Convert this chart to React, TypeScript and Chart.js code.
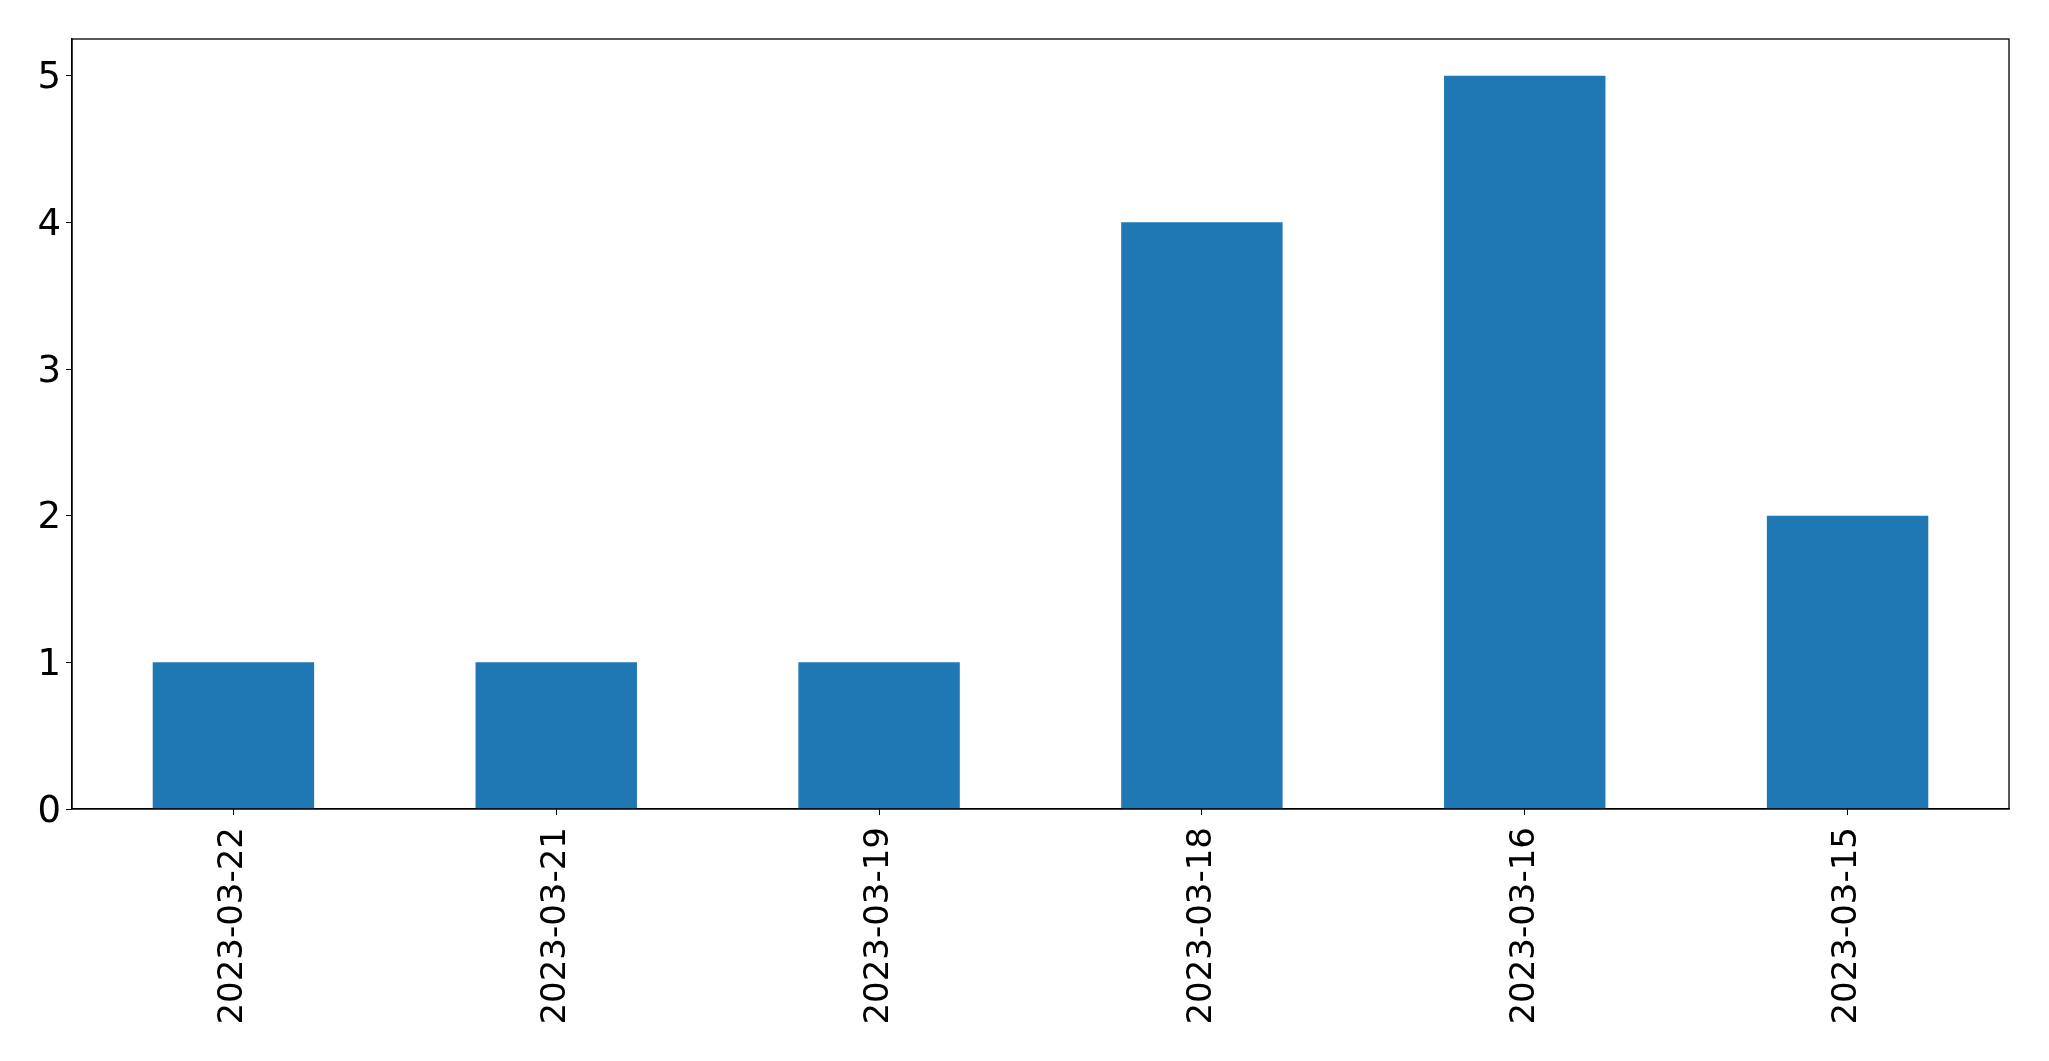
import React, { useEffect, useRef } from "react";
import { Chart, registerables } from "chart.js";

Chart.register(...registerables);

const categories = ["2023-03-22", "2023-03-21", "2023-03-19", "2023-03-18", "2023-03-16", "2023-03-15"];
const counts = [1, 1, 1, 4, 5, 2];
const yTicks = [0, 1, 2, 3, 4, 5];

const W = 2049;
const H = 1061;
const FONT = "'DejaVu Sans', 'Liberation Sans', sans-serif";

const frame = {
  id: "frame",
  afterDatasetsDraw(chart: any) {
    const { ctx, chartArea } = chart;
    ctx.save();
    ctx.strokeStyle = "#000";
    ctx.lineWidth = 1.3;
    ctx.strokeRect(chartArea.left, chartArea.top, chartArea.right - chartArea.left, chartArea.bottom - chartArea.top);
    ctx.restore();
  },
};

export default function App() {
  const ref = useRef<HTMLCanvasElement | null>(null);
  useEffect(() => {
    document.body.style.margin = "0";
    const chart = new Chart(ref.current as HTMLCanvasElement, {
      type: "bar",
      data: {
        labels: categories,
        datasets: [
          {
            data: counts,
            backgroundColor: "#1f77b4",
            borderWidth: 0,
            categoryPercentage: 1,
            barPercentage: 0.5,
          },
        ],
      },
      options: {
        animation: false,
        responsive: false,
        devicePixelRatio: 1,
        layout: { padding: { left: 0, top: 39, right: 40, bottom: 0 } },
        plugins: { legend: { display: false }, tooltip: { enabled: false } },
        scales: {
          x: {
            offset: true,
            grid: { drawOnChartArea: false, drawTicks: true, tickLength: 6, color: "#000", offset: false },
            border: { display: true, color: "#000", width: 1.3 },
            ticks: {
              color: "#000",
              font: { family: FONT, size: 34 },
              maxRotation: 90,
              minRotation: 90,
              padding: 12,
              autoSkip: false,
            },
            afterFit(scale: any) {
              scale.height = H - 809;
            },
          },
          y: {
            min: 0,
            max: 5.25,
            grid: { drawOnChartArea: false, drawTicks: true, tickLength: 6, color: "#000" },
            border: { display: true, color: "#000", width: 1.3 },
            ticks: {
              color: "#000",
              font: { family: FONT, size: 37 },
              stepSize: 1,
              includeBounds: false,
              padding: 5,
              labelOffset: 3,
              callback: (v: any) => (yTicks.includes(Number(v)) ? String(v) : ""),
            },
            afterFit(scale: any) {
              scale.width = 72;
            },
          },
        },
      },
      plugins: [frame],
    });
    return () => chart.destroy();
  }, []);
  return (
    <div style={{ position: "fixed", left: 0, top: 0, width: W, height: H, background: "#fff" }}>
      <canvas ref={ref} width={W} height={H} style={{ width: W, height: H, display: "block" }} />
    </div>
  );
}
